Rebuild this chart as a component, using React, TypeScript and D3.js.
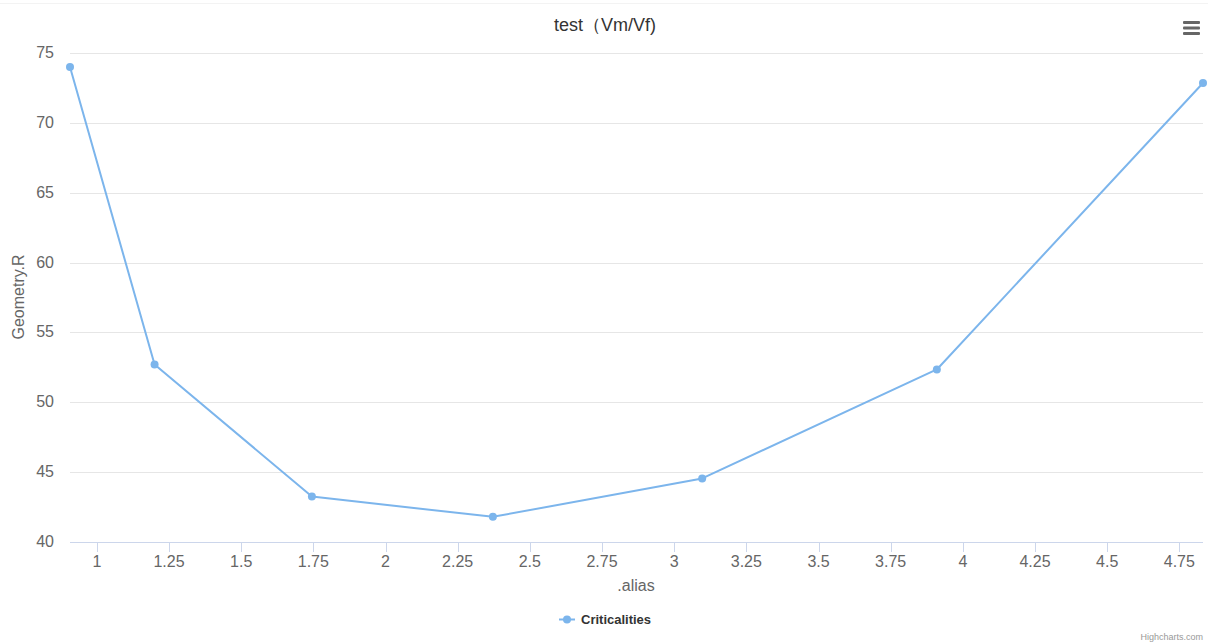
import React from "react";
import * as d3 from "d3";

const xValues = [0.907, 1.2, 1.745, 2.372, 3.097, 3.91, 4.832];
const yValues = [74.0, 52.7, 43.25, 41.8, 44.55, 52.35, 72.85];
const xTicks = [1, 1.25, 1.5, 1.75, 2, 2.25, 2.5, 2.75, 3, 3.25, 3.5, 3.75, 4, 4.25, 4.5, 4.75];
const yTicks = [40, 45, 50, 55, 60, 65, 70, 75];
const seriesName = "Criticalities";
const titleText = "test（Vm/Vf)";
const xTitle = ".alias";
const yTitle = "Geometry.R";

const W = 1208;
const H = 642;
const left = 70;
const right = 1203;
const top = 53;
const bottom = 542;
const font = '"Liberation Sans", Arial, Helvetica, sans-serif';
const color = "#7cb5ec";

export default function App() {
  const x = d3.scaleLinear().domain([d3.min(xValues)!, d3.max(xValues)!]).range([left, right]);
  const y = d3.scaleLinear().domain([40, 75]).range([bottom, top]);
  const pts = xValues.map((v, i) => [v, yValues[i]] as [number, number]);
  const line = d3.line<[number, number]>().x((d) => x(d[0])).y((d) => y(d[1]));

  return (
    <svg width={W} height={H} style={{ position: "absolute", left: 0, top: 0, display: "block", background: "#fff" }} fontFamily={font}>
      <rect x={0} y={0} width={W} height={H} fill="#ffffff" />
      <line x1={0} x2={W} y1={3.5} y2={3.5} stroke="#f3f3f3" strokeWidth={1} />
      {yTicks.map((t) => (
        <g key={t}>
          {t !== 40 && (
            <line x1={left} x2={right} y1={Math.round(y(t)) + 0.5} y2={Math.round(y(t)) + 0.5} stroke="#e6e6e6" strokeWidth={1} />
          )}
          <text x={54} y={y(t) + 5} textAnchor="end" fontSize={16} fill="#666666">{t}</text>
        </g>
      ))}
      <line x1={left} x2={right} y1={bottom + 0.5} y2={bottom + 0.5} stroke="#ccd6eb" strokeWidth={1} />
      {xTicks.map((t) => (
        <g key={t}>
          <line x1={Math.round(x(t)) + 0.5} x2={Math.round(x(t)) + 0.5} y1={bottom} y2={bottom + 10} stroke="#ccd6eb" strokeWidth={1} />
          <text x={x(t)} y={567} textAnchor="middle" fontSize={16} fill="#666666">{t}</text>
        </g>
      ))}
      <path d={line(pts)!} fill="none" stroke={color} strokeWidth={2} strokeLinejoin="round" strokeLinecap="round" />
      {pts.map((p, i) => (
        <circle key={i} cx={x(p[0])} cy={y(p[1])} r={4} fill={color} />
      ))}
      <text x={605} y={31} textAnchor="middle" fontSize={18} fill="#333333">{titleText}</text>
      <text x={636} y={591} textAnchor="middle" fontSize={16} fill="#666666">{xTitle}</text>
      <text transform={`translate(24, 297) rotate(-90)`} textAnchor="middle" fontSize={16} fill="#666666">{yTitle}</text>
      <g>
        <line x1={559} x2={575} y1={619.5} y2={619.5} stroke={color} strokeWidth={2} />
        <circle cx={567} cy={619.5} r={4} fill={color} />
        <text x={581} y={624} fontSize={13} fontWeight="bold" fill="#333333">{seriesName}</text>
      </g>
      <g fill="#666666">
        <rect x={1183} y={21} width={17} height={3} rx={1} />
        <rect x={1183} y={26.5} width={17} height={3} rx={1} />
        <rect x={1183} y={32} width={17} height={3} rx={1} />
      </g>
      <text x={1203} y={640} textAnchor="end" fontSize={9} fill="#999999">Highcharts.com</text>
    </svg>
  );
}
